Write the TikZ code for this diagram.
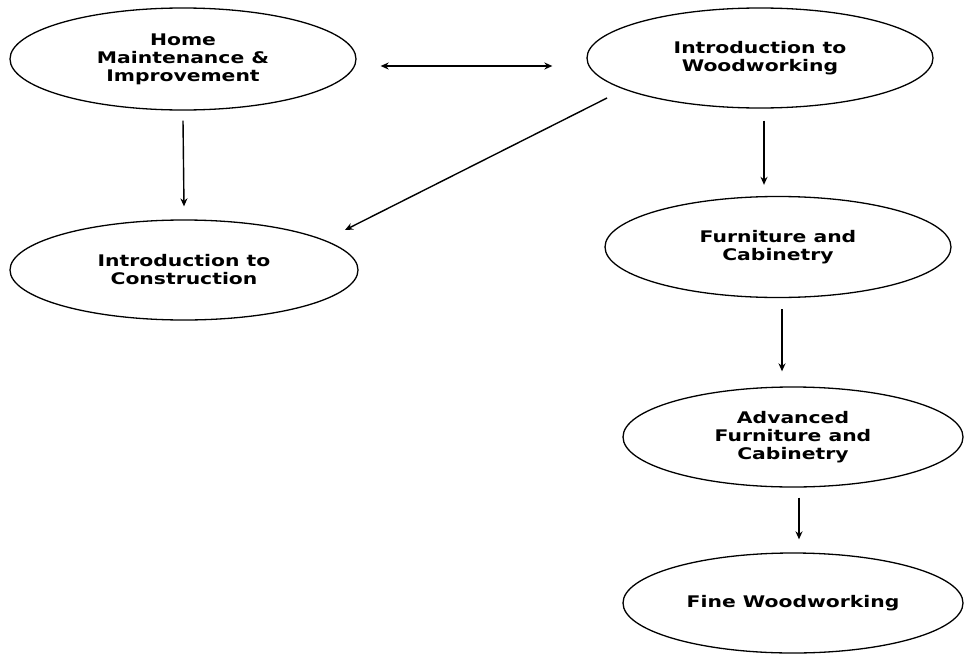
\documentclass[tikz,border=0pt]{standalone}
\usepackage{fontspec}
\setmainfont{DejaVu Sans}[FakeStretch=1.27]
\usetikzlibrary{shapes.geometric,arrows.meta}
\tikzset{
  course/.style={ellipse, draw, line width=1.3pt, inner sep=0pt, align=center,
    font=\bfseries\fontsize{16}{18}\selectfont},
  arr/.style={line width=1.4pt, -{Stealth[length=8pt,width=7pt]}},
  darr/.style={line width=1.4pt, {Stealth[length=8pt,width=7pt]}-{Stealth[length=8pt,width=7pt]}}
}
\begin{document}
\begin{tikzpicture}[x=1pt,y=-1pt]
\useasboundingbox (0,0) rectangle (966,653);
\node[course, minimum width=346pt, minimum height=102pt] (home) at (183,59) {Home\\Maintenance \&\\Improvement};
\node[course, minimum width=346pt, minimum height=100pt] (wood) at (760,58) {Introduction to\\Woodworking};
\node[course, minimum width=348pt, minimum height=100pt] (cons) at (184,270) {Introduction to\\Construction};
\node[course, minimum width=346pt, minimum height=101pt] (furn) at (778,247) {Furniture and\\Cabinetry};
\node[course, minimum width=340pt, minimum height=100pt] (adv) at (793,437) {Advanced\\Furniture and\\Cabinetry};
\node[course, minimum width=340pt, minimum height=100pt] (fine) at (793,603) {Fine Woodworking};

\draw[darr] ([shift={(24pt,-7pt)}]home.east) -- ([shift={(-34pt,-8pt)}]wood.west);
\draw[arr] ([yshift=-10pt]home.south) -- ([yshift=13pt]cons.north);
\draw[arr] ([shift={(-153pt,-40pt)}]wood.center) -- ([shift={(161pt,40pt)}]cons.center);
\draw[arr] ([shift={(4pt,-12pt)}]wood.south) -- ([shift={(-14pt,11pt)}]furn.north);
\draw[arr] ([shift={(4pt,-11pt)}]furn.south) -- ([shift={(-11pt,15pt)}]adv.north);
\draw[arr] ([shift={(6pt,-10pt)}]adv.south) -- ([shift={(6pt,13pt)}]fine.north);
\end{tikzpicture}
\end{document}
